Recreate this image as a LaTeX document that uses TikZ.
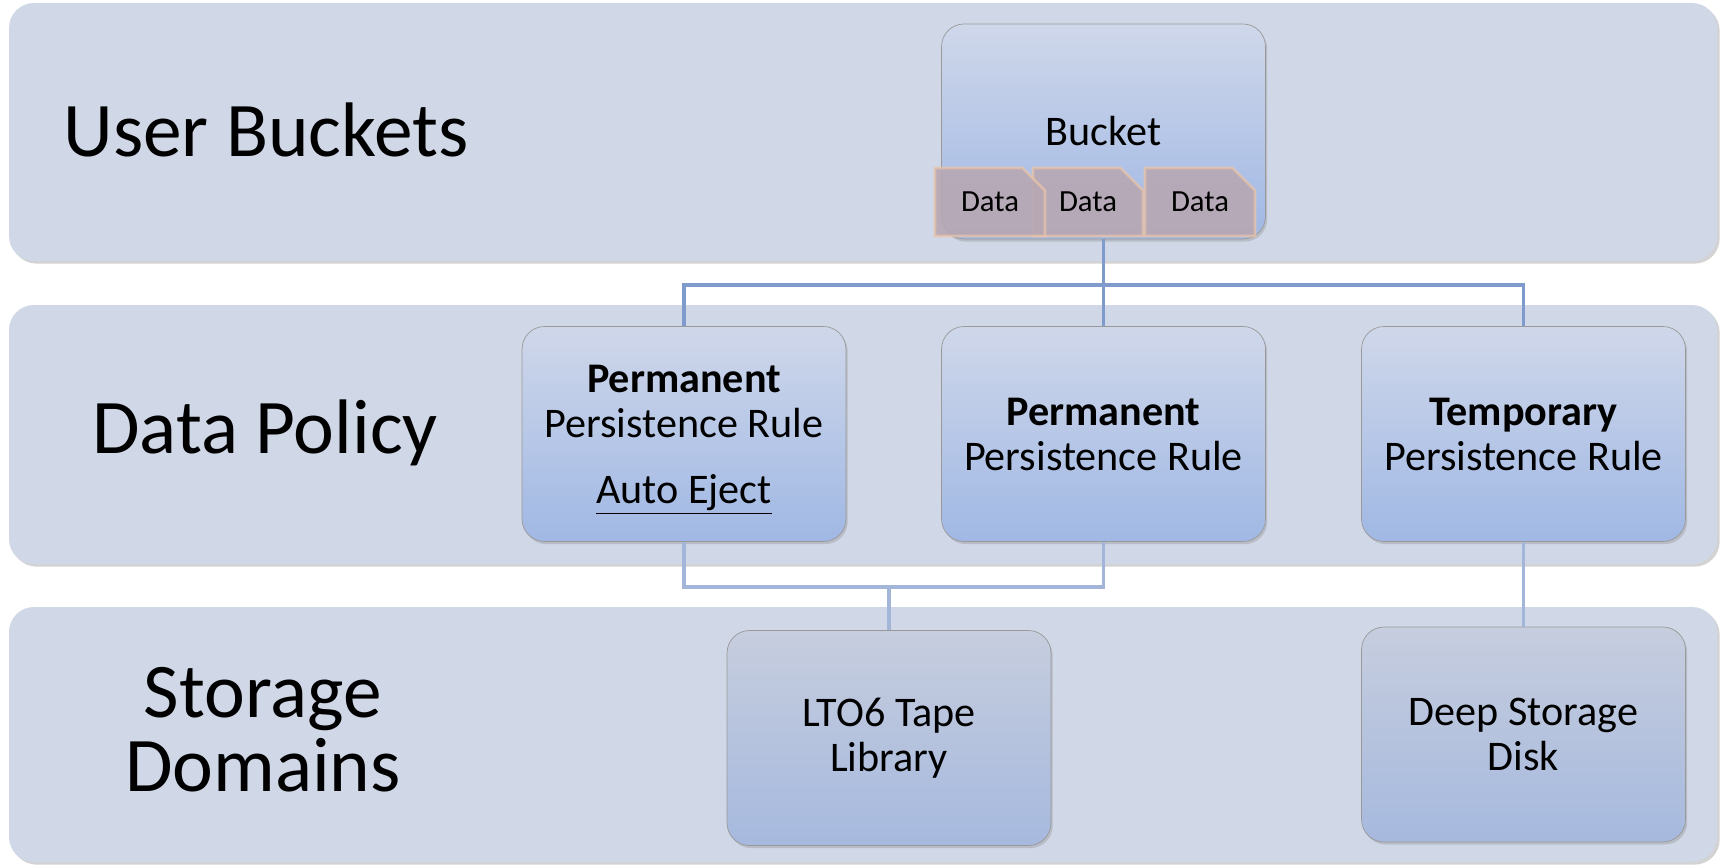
\documentclass[tikz,border=0pt]{standalone}
\usepackage{fontspec}
\setmainfont{Carlito}
\usetikzlibrary{positioning, shadows, shapes.misc}

\definecolor{bandfill}{RGB}{208,215,230}
\definecolor{boxtop}{RGB}{207,215,234}
\definecolor{boxbottom}{RGB}{160,184,228}
\definecolor{storetop}{RGB}{198,205,222}
\definecolor{storebottom}{RGB}{166,185,222}
\definecolor{linkdark}{RGB}{126,155,203}
\definecolor{linklight}{RGB}{163,182,217}
\definecolor{datafill}{RGB}{183,167,179}
\definecolor{dataedge}{RGB}{236,196,168}

\begin{document}
\begin{tikzpicture}[x=0.02cm, y=-0.02cm,
    band/.style={fill=bandfill, rounded corners=0.5cm,
        drop shadow={opacity=0.35, shadow xshift=1.5pt, shadow yshift=-1.5pt}},
    layer/.style={font=\fontsize{44}{42}\selectfont, align=center},
    policy/.style={draw=gray!80, rounded corners=0.45cm, minimum width=6.48cm,
        minimum height=4.3cm, top color=boxtop, bottom color=boxbottom,
        align=center, font=\fontsize{24}{25.6}\selectfont,
        drop shadow={opacity=0.3, shadow xshift=1pt, shadow yshift=-1.5pt}},
    storebox/.style={policy, top color=storetop, bottom color=storebottom},
    databox/.style={chamfered rectangle, chamfered rectangle corners=north east,
        chamfered rectangle xsep=0.25cm, chamfered rectangle ysep=0.25cm,
        minimum width=2.2cm, minimum height=1.36cm, inner sep=0pt,
        fill=datafill, fill opacity=0.9, draw=dataedge, draw opacity=0.7,
        line width=1.5pt, text opacity=1, font=\fontsize{17.5}{20}\selectfont},
    link/.style={draw=linkdark, line width=2.2pt},
    linklow/.style={draw=linklight, line width=2.2pt}]

    \useasboundingbox (0,0) rectangle (1720,865);

    \fill[band] (9,3) rectangle (1717,261);
    \fill[band] (9,305) rectangle (1717,564);
    \fill[band] (9,607) rectangle (1717,862);

    \node[layer] (userlbl) at (266,130) {User Buckets};
    \node[layer] (policylbl) at (265,433) {Data Policy};
    \node[layer] (storelbl) at (263,730) {Storage\\Domains};

    \node[policy] (bucket) at (1103.5,131.5) {Bucket};
    \node[databox] (data2) at (1088,202) {Data};
    \node[databox] (data1) at (990,202) {Data};
    \node[databox] (data3) at (1200,202) {Data};

    \node[policy] (perm1) at (684,434) {\textbf{Permanent}\\Persistence Rule\\[12pt]\smash{\underline{Auto Eject}}};
    \node[policy] (perm2) at (1103.5,434) {\textbf{Permanent}\\Persistence Rule};
    \node[policy] (temp) at (1523.5,434) {\textbf{Temporary}\\Persistence Rule};

    \node[storebox] (lto) at (889,738) {LTO6 Tape\\Library};
    \node[storebox] (deep) at (1523.5,734.5) {Deep Storage\\Disk};

    \coordinate (bus1) at (0,285);
    \coordinate (bus2) at (0,587);

    \draw[link] (bucket.south) -- (perm2.north);
    \draw[link] (perm1.north) -- (perm1.north |- bus1) -- (temp.north |- bus1) -- (temp.north);
    \draw[linklow] (perm1.south) -- (perm1.south |- bus2) -- (perm2.south |- bus2) -- (perm2.south);
    \draw[linklow] (lto.north) -- (lto.north |- bus2);
    \draw[linklow] (temp.south) -- (deep.north);
\end{tikzpicture}
\end{document}
